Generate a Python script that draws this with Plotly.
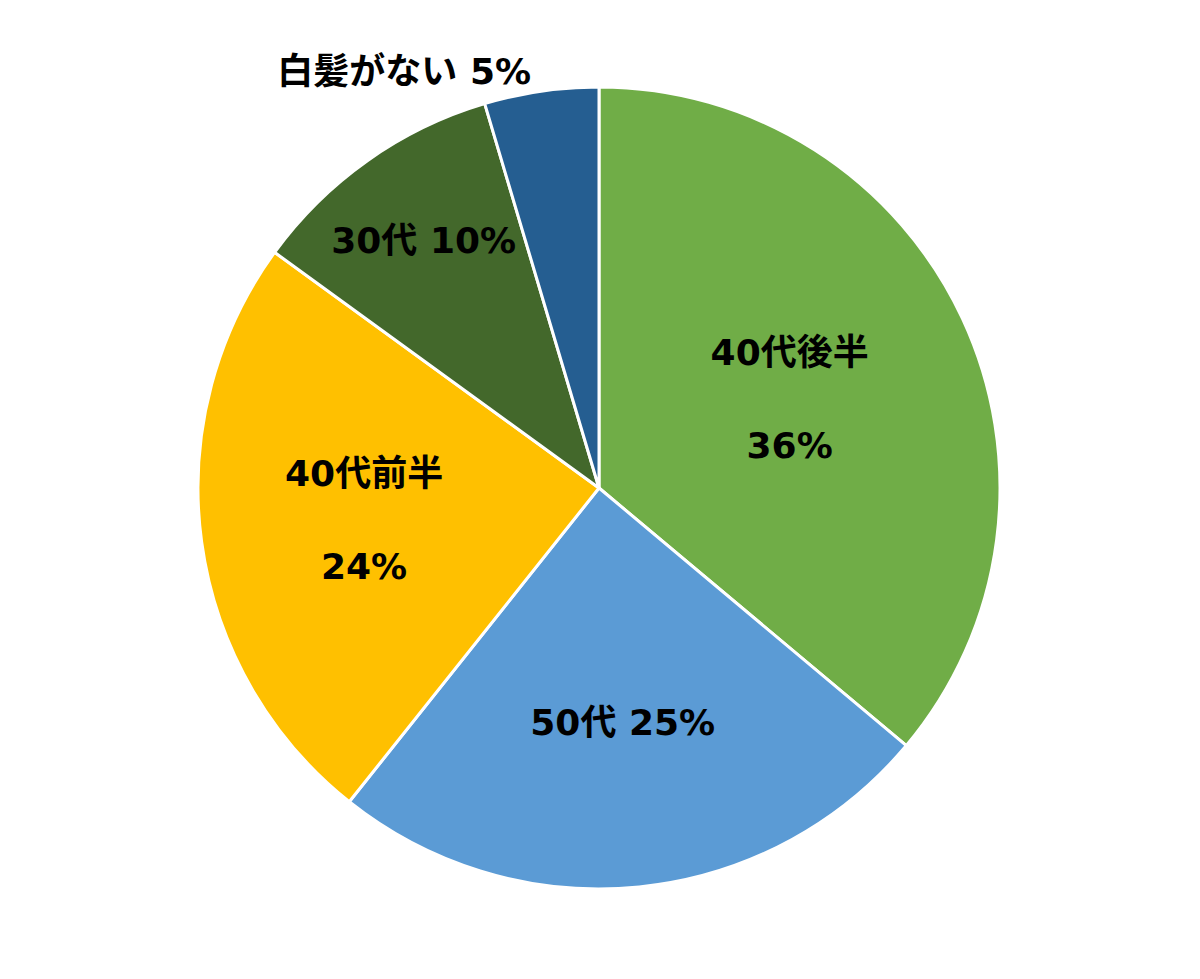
import plotly.graph_objects as go

labels = ["40代後半", "50代", "40代前半", "30代", "白髪がない"]
values = [36.1, 24.6, 24.3, 10.4, 4.6]
colors = ["#70AD47", "#5B9BD5", "#FFC000", "#43682B", "#255E91"]
templates = [
    "%{label}<br><br>%{percent:.0%}",
    "%{label} %{percent:.0%}",
    "%{label}<br><br>%{percent:.0%}",
    "%{label} %{percent:.0%}",
    "%{label} %{percent:.0%}",
]
positions = ["inside", "inside", "inside", "inside", "outside"]

font = dict(family="DejaVu Sans, Noto Sans CJK JP", size=36, color="black", weight="bold")

fig = go.Figure(go.Pie(
    labels=labels,
    values=values,
    sort=False,
    direction="clockwise",
    rotation=0,
    marker=dict(colors=colors, line=dict(color="white", width=3)),
    texttemplate=templates,
    textposition=positions,
    insidetextorientation="horizontal",
    textfont=font,
    outsidetextfont=font,
    domain=dict(x=[0.1583, 0.8267], y=[0.1001, 0.9193]),
    showlegend=False,
    hoverinfo="label+percent",
    automargin=False,
))
fig.update_layout(
    width=1200, height=979,
    margin=dict(l=0, r=0, t=0, b=0),
    paper_bgcolor="white",
)
fig.write_html("out.html")
